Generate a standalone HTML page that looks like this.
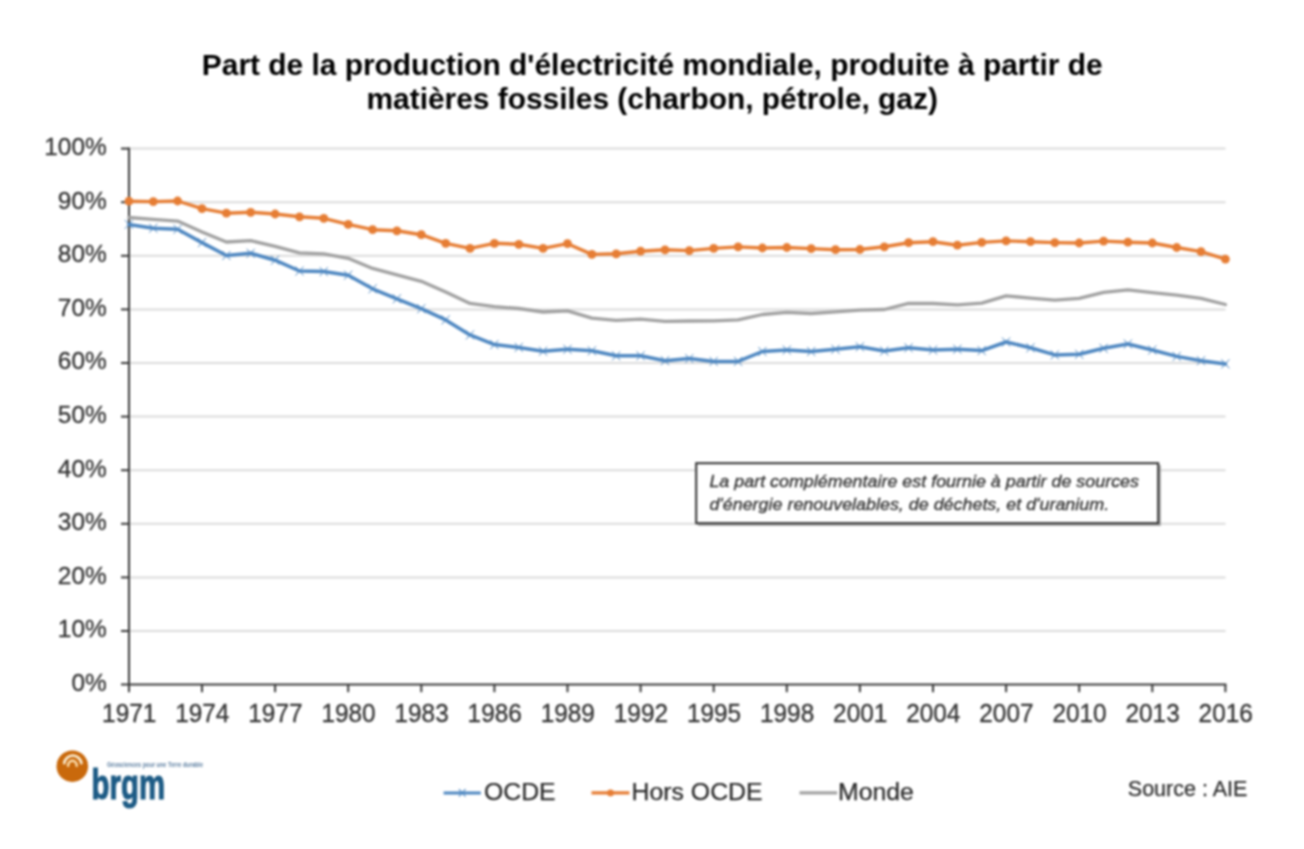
<!DOCTYPE html>
<html lang="fr"><head><meta charset="utf-8">
<title>Part de la production d'électricité mondiale, produite à partir de matières fossiles</title>
<style>
html,body{margin:0;padding:0;background:#fff;}
body{width:1304px;height:849px;overflow:hidden;font-family:"Liberation Sans",sans-serif;}
svg{display:block;filter:blur(0.85px);}
text{font-family:"Liberation Sans",sans-serif;}
.title{font-weight:bold;font-size:29.9px;fill:#000;text-anchor:middle;}
.ax{font-size:24.4px;fill:#333;stroke:#333;stroke-width:0.3px;}
.leg{font-size:24.8px;fill:#282828;stroke:#282828;stroke-width:0.25px;}
.src{font-size:21.5px;fill:#2c2c2c;stroke:#2c2c2c;stroke-width:0.25px;}
.note{font-style:italic;font-size:16.2px;fill:#333;stroke:#333;stroke-width:0.3px;}
</style></head><body>
<svg width="1304" height="849" viewBox="0 0 1304 849">
<rect width="1304" height="849" fill="#ffffff"/>
<text class="title" x="652.2" y="74.7">Part de la production d'électricité mondiale, produite à partir de</text>
<text class="title" x="652.2" y="109.2">matières fossiles (charbon, pétrole, gaz)</text>
<g stroke="#dbdbdb" stroke-width="2">
<line x1="130" y1="631.0" x2="1225.5" y2="631.0"/>
<line x1="130" y1="577.4" x2="1225.5" y2="577.4"/>
<line x1="130" y1="523.8" x2="1225.5" y2="523.8"/>
<line x1="130" y1="470.2" x2="1225.5" y2="470.2"/>
<line x1="130" y1="416.6" x2="1225.5" y2="416.6"/>
<line x1="130" y1="363.0" x2="1225.5" y2="363.0"/>
<line x1="130" y1="309.4" x2="1225.5" y2="309.4"/>
<line x1="130" y1="255.8" x2="1225.5" y2="255.8"/>
<line x1="130" y1="202.2" x2="1225.5" y2="202.2"/>
<line x1="130" y1="148.6" x2="1225.5" y2="148.6"/>
</g>
<rect x="698" y="465" width="463" height="61" fill="#9a9a9a" opacity="0.75"/>
<rect x="696.2" y="463.2" width="462" height="60" fill="#ffffff" stroke="#2f2f2f" stroke-width="2"/>
<text class="note" transform="translate(709.4,486.8) scale(1.105,1)">La part complémentaire est fournie à partir de sources</text>
<text class="note" transform="translate(709.4,510.2) scale(1.105,1)">d'énergie renouvelables, de déchets, et d'uranium.</text>
<g stroke="#383838" stroke-width="2" fill="none">
<line x1="129" y1="147.6" x2="129" y2="692.2"/>
<line x1="121" y1="684.6" x2="1226.4" y2="684.6"/>
<line x1="121" y1="631.0" x2="129" y2="631.0"/>
<line x1="121" y1="577.4" x2="129" y2="577.4"/>
<line x1="121" y1="523.8" x2="129" y2="523.8"/>
<line x1="121" y1="470.2" x2="129" y2="470.2"/>
<line x1="121" y1="416.6" x2="129" y2="416.6"/>
<line x1="121" y1="363.0" x2="129" y2="363.0"/>
<line x1="121" y1="309.4" x2="129" y2="309.4"/>
<line x1="121" y1="255.8" x2="129" y2="255.8"/>
<line x1="121" y1="202.2" x2="129" y2="202.2"/>
<line x1="121" y1="148.6" x2="129" y2="148.6"/>
<line x1="202.0" y1="684.6" x2="202.0" y2="692.2"/>
<line x1="275.1" y1="684.6" x2="275.1" y2="692.2"/>
<line x1="348.2" y1="684.6" x2="348.2" y2="692.2"/>
<line x1="421.3" y1="684.6" x2="421.3" y2="692.2"/>
<line x1="494.4" y1="684.6" x2="494.4" y2="692.2"/>
<line x1="567.5" y1="684.6" x2="567.5" y2="692.2"/>
<line x1="640.6" y1="684.6" x2="640.6" y2="692.2"/>
<line x1="713.7" y1="684.6" x2="713.7" y2="692.2"/>
<line x1="786.8" y1="684.6" x2="786.8" y2="692.2"/>
<line x1="859.9" y1="684.6" x2="859.9" y2="692.2"/>
<line x1="933.0" y1="684.6" x2="933.0" y2="692.2"/>
<line x1="1006.1" y1="684.6" x2="1006.1" y2="692.2"/>
<line x1="1079.2" y1="684.6" x2="1079.2" y2="692.2"/>
<line x1="1152.3" y1="684.6" x2="1152.3" y2="692.2"/>
<line x1="1225.4" y1="684.6" x2="1225.4" y2="692.2"/>
</g>
<text class="ax" text-anchor="end" x="106.7" y="691.0">0%</text>
<text class="ax" text-anchor="end" x="106.7" y="637.4">10%</text>
<text class="ax" text-anchor="end" x="106.7" y="583.8">20%</text>
<text class="ax" text-anchor="end" x="106.7" y="530.2">30%</text>
<text class="ax" text-anchor="end" x="106.7" y="476.6">40%</text>
<text class="ax" text-anchor="end" x="106.7" y="423.0">50%</text>
<text class="ax" text-anchor="end" x="106.7" y="369.4">60%</text>
<text class="ax" text-anchor="end" x="106.7" y="315.8">70%</text>
<text class="ax" text-anchor="end" x="106.7" y="262.2">80%</text>
<text class="ax" text-anchor="end" x="106.7" y="208.6">90%</text>
<text class="ax" text-anchor="end" x="106.7" y="155.0">100%</text>
<text class="ax" style="font-size:25px" text-anchor="middle" transform="translate(129.2,722.2) scale(0.975,1)">1971</text>
<text class="ax" style="font-size:25px" text-anchor="middle" transform="translate(202.3,722.2) scale(0.975,1)">1974</text>
<text class="ax" style="font-size:25px" text-anchor="middle" transform="translate(275.4,722.2) scale(0.975,1)">1977</text>
<text class="ax" style="font-size:25px" text-anchor="middle" transform="translate(348.5,722.2) scale(0.975,1)">1980</text>
<text class="ax" style="font-size:25px" text-anchor="middle" transform="translate(421.6,722.2) scale(0.975,1)">1983</text>
<text class="ax" style="font-size:25px" text-anchor="middle" transform="translate(494.7,722.2) scale(0.975,1)">1986</text>
<text class="ax" style="font-size:25px" text-anchor="middle" transform="translate(567.8,722.2) scale(0.975,1)">1989</text>
<text class="ax" style="font-size:25px" text-anchor="middle" transform="translate(640.9,722.2) scale(0.975,1)">1992</text>
<text class="ax" style="font-size:25px" text-anchor="middle" transform="translate(714.0,722.2) scale(0.975,1)">1995</text>
<text class="ax" style="font-size:25px" text-anchor="middle" transform="translate(787.1,722.2) scale(0.975,1)">1998</text>
<text class="ax" style="font-size:25px" text-anchor="middle" transform="translate(860.2,722.2) scale(0.975,1)">2001</text>
<text class="ax" style="font-size:25px" text-anchor="middle" transform="translate(933.3,722.2) scale(0.975,1)">2004</text>
<text class="ax" style="font-size:25px" text-anchor="middle" transform="translate(1006.4,722.2) scale(0.975,1)">2007</text>
<text class="ax" style="font-size:25px" text-anchor="middle" transform="translate(1079.5,722.2) scale(0.975,1)">2010</text>
<text class="ax" style="font-size:25px" text-anchor="middle" transform="translate(1152.6,722.2) scale(0.975,1)">2013</text>
<text class="ax" style="font-size:25px" text-anchor="middle" transform="translate(1225.7,722.2) scale(0.975,1)">2016</text>
<polyline points="128.9,224.4 153.3,228.2 177.6,229.3 202.0,242.6 226.4,255.5 250.7,253.3 275.1,260.2 299.5,271.0 323.8,271.6 348.2,275.2 372.6,288.8 396.9,298.8 421.3,308.7 445.7,319.9 470.0,334.9 494.4,344.6 518.8,347.4 543.1,351.2 567.5,349.3 591.9,350.8 616.2,355.8 640.6,355.8 665.0,360.7 689.3,358.6 713.7,361.4 738.1,361.4 762.4,351.5 786.8,350.0 811.2,351.5 835.5,349.3 859.9,346.8 884.3,351.0 908.6,347.8 933.0,350.0 957.4,349.2 981.7,350.6 1006.1,342.0 1030.5,347.8 1054.8,354.9 1079.2,354.3 1103.6,348.3 1127.9,344.0 1152.3,350.0 1176.7,356.4 1201.0,360.7 1225.4,363.9" fill="none" stroke="#4e87c1" stroke-width="3.5" stroke-linejoin="round" stroke-linecap="round"/>
<g stroke="#4f89c2" stroke-width="1" fill="none">
<path d="M124.9,219.9L132.9,228.9M124.9,228.9L132.9,219.9"/>
<path d="M149.3,223.7L157.3,232.7M149.3,232.7L157.3,223.7"/>
<path d="M173.6,224.8L181.6,233.8M173.6,233.8L181.6,224.8"/>
<path d="M198.0,238.1L206.0,247.1M198.0,247.1L206.0,238.1"/>
<path d="M222.4,251.0L230.4,260.0M222.4,260.0L230.4,251.0"/>
<path d="M246.7,248.8L254.7,257.8M246.7,257.8L254.7,248.8"/>
<path d="M271.1,255.7L279.1,264.7M271.1,264.7L279.1,255.7"/>
<path d="M295.5,266.5L303.5,275.5M295.5,275.5L303.5,266.5"/>
<path d="M319.8,267.1L327.8,276.1M319.8,276.1L327.8,267.1"/>
<path d="M344.2,270.7L352.2,279.7M344.2,279.7L352.2,270.7"/>
<path d="M368.6,284.3L376.6,293.3M368.6,293.3L376.6,284.3"/>
<path d="M392.9,294.3L400.9,303.3M392.9,303.3L400.9,294.3"/>
<path d="M417.3,304.2L425.3,313.2M417.3,313.2L425.3,304.2"/>
<path d="M441.7,315.4L449.7,324.4M441.7,324.4L449.7,315.4"/>
<path d="M466.0,330.4L474.0,339.4M466.0,339.4L474.0,330.4"/>
<path d="M490.4,340.1L498.4,349.1M490.4,349.1L498.4,340.1"/>
<path d="M514.8,342.9L522.8,351.9M514.8,351.9L522.8,342.9"/>
<path d="M539.1,346.7L547.1,355.7M539.1,355.7L547.1,346.7"/>
<path d="M563.5,344.8L571.5,353.8M563.5,353.8L571.5,344.8"/>
<path d="M587.9,346.3L595.9,355.3M587.9,355.3L595.9,346.3"/>
<path d="M612.2,351.3L620.2,360.3M612.2,360.3L620.2,351.3"/>
<path d="M636.6,351.3L644.6,360.3M636.6,360.3L644.6,351.3"/>
<path d="M661.0,356.2L669.0,365.2M661.0,365.2L669.0,356.2"/>
<path d="M685.3,354.1L693.3,363.1M685.3,363.1L693.3,354.1"/>
<path d="M709.7,356.9L717.7,365.9M709.7,365.9L717.7,356.9"/>
<path d="M734.1,356.9L742.1,365.9M734.1,365.9L742.1,356.9"/>
<path d="M758.4,347.0L766.4,356.0M758.4,356.0L766.4,347.0"/>
<path d="M782.8,345.5L790.8,354.5M782.8,354.5L790.8,345.5"/>
<path d="M807.2,347.0L815.2,356.0M807.2,356.0L815.2,347.0"/>
<path d="M831.5,344.8L839.5,353.8M831.5,353.8L839.5,344.8"/>
<path d="M855.9,342.3L863.9,351.3M855.9,351.3L863.9,342.3"/>
<path d="M880.3,346.5L888.3,355.5M880.3,355.5L888.3,346.5"/>
<path d="M904.6,343.3L912.6,352.3M904.6,352.3L912.6,343.3"/>
<path d="M929.0,345.5L937.0,354.5M929.0,354.5L937.0,345.5"/>
<path d="M953.4,344.7L961.4,353.7M953.4,353.7L961.4,344.7"/>
<path d="M977.7,346.1L985.7,355.1M977.7,355.1L985.7,346.1"/>
<path d="M1002.1,337.5L1010.1,346.5M1002.1,346.5L1010.1,337.5"/>
<path d="M1026.5,343.3L1034.5,352.3M1026.5,352.3L1034.5,343.3"/>
<path d="M1050.8,350.4L1058.8,359.4M1050.8,359.4L1058.8,350.4"/>
<path d="M1075.2,349.8L1083.2,358.8M1075.2,358.8L1083.2,349.8"/>
<path d="M1099.6,343.8L1107.6,352.8M1099.6,352.8L1107.6,343.8"/>
<path d="M1123.9,339.5L1131.9,348.5M1123.9,348.5L1131.9,339.5"/>
<path d="M1148.3,345.5L1156.3,354.5M1148.3,354.5L1156.3,345.5"/>
<path d="M1172.7,351.9L1180.7,360.9M1172.7,360.9L1180.7,351.9"/>
<path d="M1197.0,356.2L1205.0,365.2M1197.0,365.2L1205.0,356.2"/>
<path d="M1221.4,359.4L1229.4,368.4M1221.4,368.4L1229.4,359.4"/>
</g>
<polyline points="128.9,201.2 153.3,201.6 177.6,201.0 202.0,208.7 226.4,213.2 250.7,212.3 275.1,214.0 299.5,216.8 323.8,218.3 348.2,224.4 372.6,229.7 396.9,230.8 421.3,234.7 445.7,243.3 470.0,248.4 494.4,243.3 518.8,244.3 543.1,248.4 567.5,243.7 591.9,254.4 616.2,253.8 640.6,251.2 665.0,249.8 689.3,250.6 713.7,248.4 738.1,246.9 762.4,248.0 786.8,247.5 811.2,248.6 835.5,249.7 859.9,249.5 884.3,246.8 908.6,242.7 933.0,241.7 957.4,245.2 981.7,242.4 1006.1,240.9 1030.5,241.7 1054.8,242.6 1079.2,243.0 1103.6,241.1 1127.9,242.2 1152.3,243.0 1176.7,247.5 1201.0,251.6 1225.4,259.1" fill="none" stroke="#e67d34" stroke-width="3.4" stroke-linejoin="round" stroke-linecap="round"/>
<g fill="#e67d34">
<circle cx="128.9" cy="201.2" r="4.4"/>
<circle cx="153.3" cy="201.6" r="4.4"/>
<circle cx="177.6" cy="201.0" r="4.4"/>
<circle cx="202.0" cy="208.7" r="4.4"/>
<circle cx="226.4" cy="213.2" r="4.4"/>
<circle cx="250.7" cy="212.3" r="4.4"/>
<circle cx="275.1" cy="214.0" r="4.4"/>
<circle cx="299.5" cy="216.8" r="4.4"/>
<circle cx="323.8" cy="218.3" r="4.4"/>
<circle cx="348.2" cy="224.4" r="4.4"/>
<circle cx="372.6" cy="229.7" r="4.4"/>
<circle cx="396.9" cy="230.8" r="4.4"/>
<circle cx="421.3" cy="234.7" r="4.4"/>
<circle cx="445.7" cy="243.3" r="4.4"/>
<circle cx="470.0" cy="248.4" r="4.4"/>
<circle cx="494.4" cy="243.3" r="4.4"/>
<circle cx="518.8" cy="244.3" r="4.4"/>
<circle cx="543.1" cy="248.4" r="4.4"/>
<circle cx="567.5" cy="243.7" r="4.4"/>
<circle cx="591.9" cy="254.4" r="4.4"/>
<circle cx="616.2" cy="253.8" r="4.4"/>
<circle cx="640.6" cy="251.2" r="4.4"/>
<circle cx="665.0" cy="249.8" r="4.4"/>
<circle cx="689.3" cy="250.6" r="4.4"/>
<circle cx="713.7" cy="248.4" r="4.4"/>
<circle cx="738.1" cy="246.9" r="4.4"/>
<circle cx="762.4" cy="248.0" r="4.4"/>
<circle cx="786.8" cy="247.5" r="4.4"/>
<circle cx="811.2" cy="248.6" r="4.4"/>
<circle cx="835.5" cy="249.7" r="4.4"/>
<circle cx="859.9" cy="249.5" r="4.4"/>
<circle cx="884.3" cy="246.8" r="4.4"/>
<circle cx="908.6" cy="242.7" r="4.4"/>
<circle cx="933.0" cy="241.7" r="4.4"/>
<circle cx="957.4" cy="245.2" r="4.4"/>
<circle cx="981.7" cy="242.4" r="4.4"/>
<circle cx="1006.1" cy="240.9" r="4.4"/>
<circle cx="1030.5" cy="241.7" r="4.4"/>
<circle cx="1054.8" cy="242.6" r="4.4"/>
<circle cx="1079.2" cy="243.0" r="4.4"/>
<circle cx="1103.6" cy="241.1" r="4.4"/>
<circle cx="1127.9" cy="242.2" r="4.4"/>
<circle cx="1152.3" cy="243.0" r="4.4"/>
<circle cx="1176.7" cy="247.5" r="4.4"/>
<circle cx="1201.0" cy="251.6" r="4.4"/>
<circle cx="1225.4" cy="259.1" r="4.4"/>
</g>
<polyline points="128.9,217.5 153.3,219.4 177.6,221.1 202.0,231.9 226.4,242.0 250.7,240.7 275.1,246.3 299.5,252.9 323.8,253.8 348.2,258.3 372.6,268.4 396.9,274.8 421.3,281.3 445.7,292.0 470.0,303.4 494.4,306.6 518.8,308.5 543.1,312.0 567.5,310.9 591.9,318.2 616.2,320.3 640.6,319.1 665.0,321.4 689.3,321.0 713.7,320.8 738.1,319.9 762.4,314.5 786.8,312.4 811.2,313.5 835.5,311.8 859.9,310.2 884.3,309.5 908.6,303.4 933.0,303.5 957.4,304.9 981.7,303.2 1006.1,295.8 1030.5,298.2 1054.8,300.2 1079.2,298.4 1103.6,292.4 1127.9,289.8 1152.3,292.6 1176.7,295.2 1201.0,298.4 1225.4,304.5" fill="none" stroke="#a1a1a1" stroke-width="3.3" stroke-linejoin="round" stroke-linecap="round"/>
<line x1="443.6" y1="792.9" x2="480.8" y2="792.9" stroke="#4e87c1" stroke-width="3"/>
<path d="M458.9,789.1L465.5,796.6999999999999M458.9,796.6999999999999L465.5,789.1" stroke="#4f89c2" stroke-width="1.1" fill="none"/>
<text class="leg" x="484.0" y="799.9">OCDE</text>
<line x1="591.5" y1="792.9" x2="629.4" y2="792.9" stroke="#e67d34" stroke-width="3.1"/>
<circle cx="610.5" cy="792.9" r="3.4" fill="#e67d34"/>
<text class="leg" x="631.6" y="799.9">Hors OCDE</text>
<line x1="799.5" y1="792.9" x2="837.2" y2="792.9" stroke="#a3a3a3" stroke-width="3.2"/>
<text class="leg" x="838.0" y="799.9">Monde</text>
<text class="src" x="1127.8" y="795.9">Source : AIE</text>
<g>
<circle cx="72.3" cy="766.2" r="15.8" fill="#c9690c"/>
<path d="M64.2,763.2A8.7,9 0 0 1 81.4,763.2" fill="none" stroke="#fbefd6" stroke-width="2.6" stroke-linecap="round"/>
<path d="M68.1,765.8A4.3,5 0 0 1 76.7,765.8" fill="none" stroke="#fde0b0" stroke-width="2.5" stroke-linecap="round"/>
<text x="0" y="0" transform="translate(91.6,799.0) scale(0.686,1)" style="font-weight:bold;font-size:42.8px;fill:#1d5b85;stroke:#1d5b85;stroke-width:1px;" vector-effect="non-scaling-stroke">brgm</text>
<text x="107" y="767" textLength="96" lengthAdjust="spacingAndGlyphs" style="font-weight:bold;font-size:7.4px;fill:#5f80a2;">Géosciences pour une Terre durable</text>
</g>
</svg>
</body></html>
